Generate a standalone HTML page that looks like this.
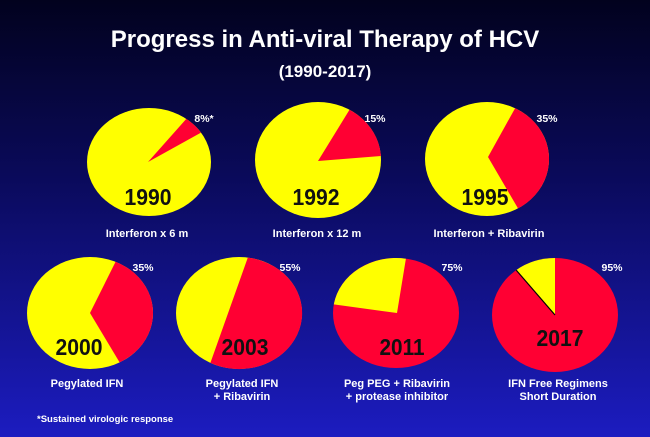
<!DOCTYPE html>
<html><head><meta charset="utf-8"><style>
html,body{margin:0;padding:0}
body{width:650px;height:437px;overflow:hidden;background:linear-gradient(#02021e 0%,#0a0a5a 40%,#1c1cc0 100%);}
svg{display:block}
text{font-family:"Liberation Sans",Arial,sans-serif;font-weight:bold}
</style></head><body>
<svg width="650" height="437" viewBox="0 0 650 437">
<g fill="#fff" text-anchor="middle">
<text x="325" y="47" font-size="24">Progress in Anti-viral Therapy of HCV</text>
<text x="325" y="77" font-size="17">(1990-2017)</text>
</g>
<ellipse cx="149" cy="162" rx="62" ry="54" fill="#ffff00"/>
<path d="M148 162 L186.3 118.9 A62 54 0 0 1 201 132.6 Z" fill="#ff0033"/>
<ellipse cx="318" cy="160" rx="63" ry="58" fill="#ffff00"/>
<path d="M318 161 L349.5 109.8 A63 58 0 0 1 380.9 156 Z" fill="#ff0033"/>
<ellipse cx="487" cy="159" rx="62" ry="57" fill="#ffff00"/>
<path d="M488 157 L515.1 108.2 A62 57 0 0 1 518 208.4 Z" fill="#ff0033"/>
<ellipse cx="90" cy="313" rx="63" ry="56" fill="#ffff00"/>
<path d="M90 313 L115.6 261.8 A63 56 0 0 1 119.6 362.4 Z" fill="#ff0033"/>
<ellipse cx="239" cy="313" rx="63" ry="56" fill="#ffff00"/>
<path d="M247.8 257.6 A63 56 0 1 1 210.4 362.9 Z" fill="#ff0033"/>
<ellipse cx="396" cy="313" rx="63" ry="55" fill="#ff0033"/>
<path d="M397 313 L333.8 304.4 A63 55 0 0 1 405.9 258.7 Z" fill="#ffff00"/>
<ellipse cx="555" cy="315" rx="63" ry="57" fill="#ff0033"/>
<path d="M555 315 L516.2 270.1 A63 57 0 0 1 555 258 Z" fill="#ffff00"/>
<line x1="555" y1="315" x2="516.2" y2="270.1" stroke="#000" stroke-width="1.2"/>

<g fill="#111" text-anchor="middle" font-size="23">
<text x="148" y="205" textLength="47" lengthAdjust="spacingAndGlyphs">1990</text>
<text x="316" y="205" textLength="47" lengthAdjust="spacingAndGlyphs">1992</text>
<text x="485" y="205" textLength="47" lengthAdjust="spacingAndGlyphs">1995</text>
<text x="79" y="355" textLength="47" lengthAdjust="spacingAndGlyphs">2000</text>
<text x="245" y="355" textLength="47" lengthAdjust="spacingAndGlyphs">2003</text>
<text x="402" y="355" textLength="45" lengthAdjust="spacingAndGlyphs">2011</text>
<text x="560" y="346" textLength="47" lengthAdjust="spacingAndGlyphs">2017</text>
</g>
<g fill="#fff" font-size="10.5" text-anchor="middle">
<text x="204" y="122">8%*</text>
<text x="375" y="122">15%</text>
<text x="547" y="122">35%</text>
<text x="143" y="271">35%</text>
<text x="290" y="271">55%</text>
<text x="452" y="271">75%</text>
<text x="612" y="271">95%</text>
</g>
<g fill="#fff" font-size="11" text-anchor="middle">
<text x="147" y="237">Interferon x 6 m</text>
<text x="317" y="237">Interferon x 12 m</text>
<text x="489" y="237">Interferon + Ribavirin</text>
<text x="87" y="387">Pegylated IFN</text>
<text x="242" y="387">Pegylated IFN</text>
<text x="242" y="400">+ Ribavirin</text>
<text x="397" y="387">Peg PEG + Ribavirin</text>
<text x="397" y="400">+ protease inhibitor</text>
<text x="558" y="387">IFN Free Regimens</text>
<text x="558" y="400">Short Duration</text>
</g>
<text x="37" y="422" fill="#fff" font-size="9.5">*Sustained virologic response</text>
</svg>
</body></html>
